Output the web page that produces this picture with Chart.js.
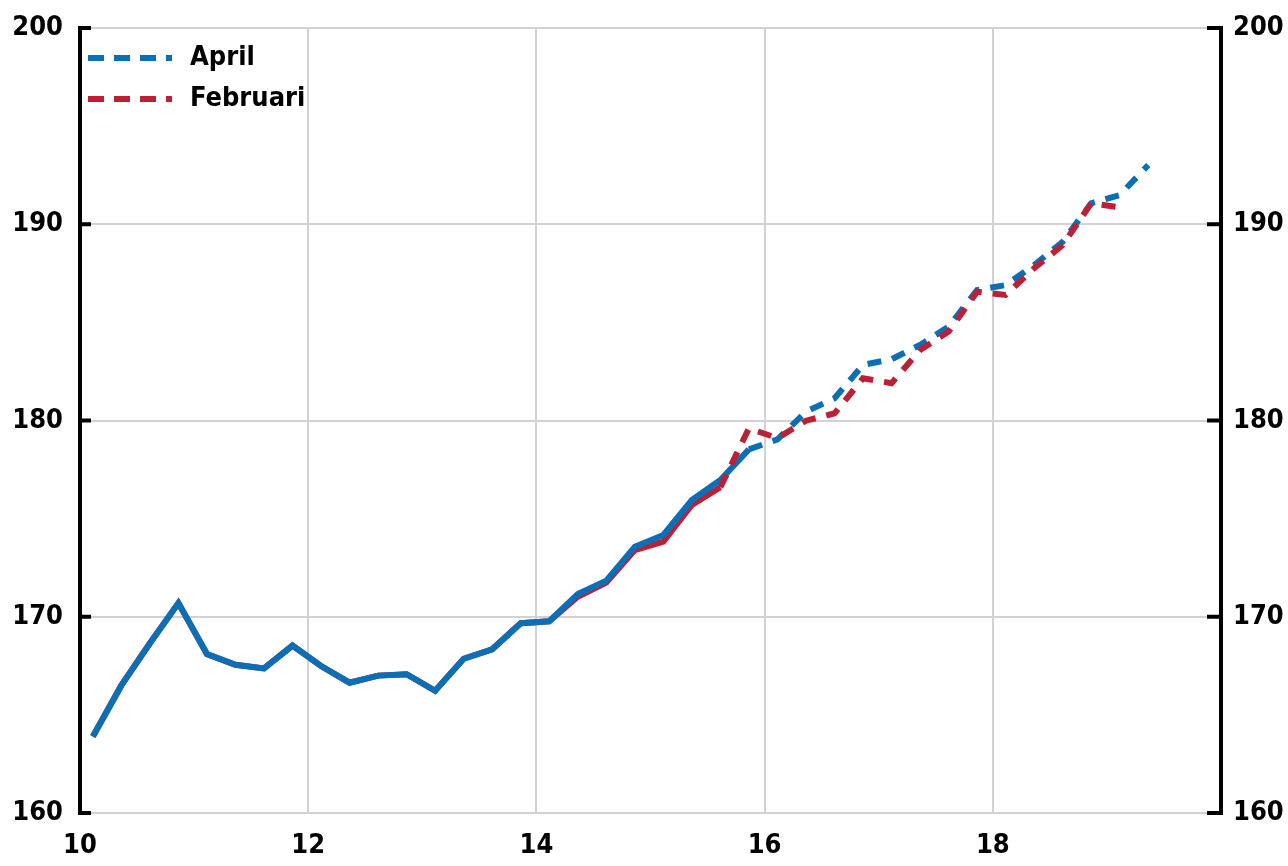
<!DOCTYPE html>
<html>
<head>
<meta charset="utf-8">
<script src="https://cdn.jsdelivr.net/npm/chart.js@4.4.0/dist/chart.umd.min.js"></script>
<style>
  html, body { margin: 0; padding: 0; background: #fff; }
  #wrap { width: 1288px; height: 866px; position: relative; }
</style>
</head>
<body>
<div id="wrap"><canvas id="lineChart" width="1288" height="866"></canvas></div>
<script>
// quarterly index, x position = year + quarter offset
const aprilValues = [
  163.9, 166.5, 168.65, 170.7, 168.1, 167.55, 167.37, 168.53,
  167.49, 166.64, 167.0, 167.07, 166.23, 167.86, 168.34, 169.67,
  169.77, 171.16, 171.84, 173.57, 174.17, 175.95, 176.97, 178.53,
  179.04, 180.45, 181.13, 182.83, 183.12, 183.85, 184.78, 186.65,
  186.9, 187.92, 189.11, 191.07, 191.49, 193.02
];
const febValues = [
  163.9, 166.5, 168.65, 170.7, 168.1, 167.55, 167.37, 168.53,
  167.49, 166.64, 167.0, 167.07, 166.23, 167.86, 168.34, 169.67,
  169.77, 171.02, 171.74, 173.4, 173.83, 175.7, 176.6, 179.6,
  179.1, 179.99, 180.36, 182.15, 181.9, 183.59, 184.53, 186.56,
  186.4, 187.76, 188.94, 191.07, 190.86
];
const aprilLastActual = 23;
const febLastActual = 22;
const xTicks = [10, 12, 14, 16, 18];
const yTicks = [160, 170, 180, 190, 200];
const seriesNames = ['April', 'Februari'];

const BLUE = '#0b6fb8';
const RED = '#bd2035';
const FONT = "'DejaVu Sans Condensed', 'Liberation Sans Narrow', 'DejaVu Sans', sans-serif";

function quarterX(i) { return 10 + (i + 0.45) / 4; }
function points(values, from, to) {
  const out = [];
  for (let i = from; i <= to && i < values.length; i++) out.push({ x: quarterX(i), y: values[i] });
  return out;
}

const innerTicks = {
  id: 'innerTicks',
  afterDraw(chart) {
    const ctx = chart.ctx;
    const area = chart.chartArea;
    const ys = chart.scales.y;
    ctx.save();
    ctx.strokeStyle = '#000';
    ctx.lineWidth = 4;
    yTicks.forEach(v => {
      const y = ys.getPixelForValue(v);
      ctx.beginPath();
      ctx.moveTo(area.left - 2, y); ctx.lineTo(area.left + 11, y);
      ctx.moveTo(area.right + 2, y); ctx.lineTo(area.right - 14, y);
      ctx.stroke();
    });
    ctx.restore();
  }
};

const insideLegend = {
  id: 'insideLegend',
  afterDraw(chart) {
    const ctx = chart.ctx;
    const area = chart.chartArea;
    const items = [
      { text: seriesNames[0], color: BLUE },
      { text: seriesNames[1], color: RED }
    ];
    ctx.save();
    items.forEach((it, k) => {
      const y = area.top + 30 + k * 41;
      ctx.strokeStyle = it.color;
      ctx.lineWidth = 6;
      ctx.setLineDash([16, 10]);
      ctx.beginPath();
      ctx.moveTo(area.left + 8, y);
      ctx.lineTo(area.left + 92, y);
      ctx.stroke();
      ctx.setLineDash([]);
      ctx.fillStyle = '#000';
      ctx.font = 'bold 27px ' + FONT;
      ctx.textBaseline = 'middle';
      ctx.fillText(it.text, area.left + 110, y);
    });
    ctx.restore();
  }
};

const tickFont = { family: FONT, size: 27, weight: 'bold' };
const noVerticalPadding = s => { s.paddingTop = 0; s.paddingBottom = 0; };

const ctxL = document.getElementById('lineChart');
new Chart(ctxL, {
  type: 'line',
  data: {
    datasets: [
      { label: seriesNames[1] + ' prognos', data: points(febValues, febLastActual, febValues.length - 1),
        borderColor: RED, borderWidth: 6, borderDash: [14, 11] },
      { label: seriesNames[0] + ' prognos', data: points(aprilValues, aprilLastActual, aprilValues.length - 1),
        borderColor: BLUE, borderWidth: 6, borderDash: [14, 11] },
      { label: seriesNames[0], data: points(aprilValues, 0, aprilLastActual),
        borderColor: BLUE, borderWidth: 6 },
      { label: seriesNames[1], data: points(febValues, 0, febLastActual),
        borderColor: RED, borderWidth: 6 }
    ]
  },
  options: {
    responsive: false,
    animation: false,
    elements: {
      point: { radius: 0 },
      line: { tension: 0, borderCapStyle: 'butt', borderJoinStyle: 'miter' }
    },
    layout: { padding: { top: 28, left: 0, right: 0, bottom: 0 } },
    plugins: { legend: { display: false }, tooltip: { enabled: false } },
    scales: {
      x: {
        type: 'linear', min: 10, max: 20,
        afterBuildTicks: s => { s.ticks = xTicks.map(v => ({ value: v })); },
        afterFit: s => { s.height = 53; s.paddingLeft = 0; s.paddingRight = 0; },
        grid: { color: '#d2d2d2', lineWidth: 2, drawTicks: false },
        border: { display: false },
        ticks: { padding: 17, color: '#000', font: tickFont }
      },
      y: {
        position: 'left', min: 160, max: 200,
        afterBuildTicks: s => { s.ticks = yTicks.map(v => ({ value: v })); },
        afterFit: s => { s.width = 80; noVerticalPadding(s); },
        grid: { color: '#d2d2d2', lineWidth: 2, drawTicks: false },
        border: { display: true, color: '#000', width: 4 },
        ticks: { padding: 17, color: '#000', font: tickFont }
      },
      y2: {
        position: 'right', min: 160, max: 200,
        afterBuildTicks: s => { s.ticks = yTicks.map(v => ({ value: v })); },
        afterFit: s => { s.width = 67; noVerticalPadding(s); },
        grid: { drawOnChartArea: false, drawTicks: false },
        border: { display: true, color: '#000', width: 4 },
        ticks: { padding: 12, color: '#000', font: tickFont }
      }
    }
  },
  plugins: [innerTicks, insideLegend]
});
</script>
</body>
</html>
